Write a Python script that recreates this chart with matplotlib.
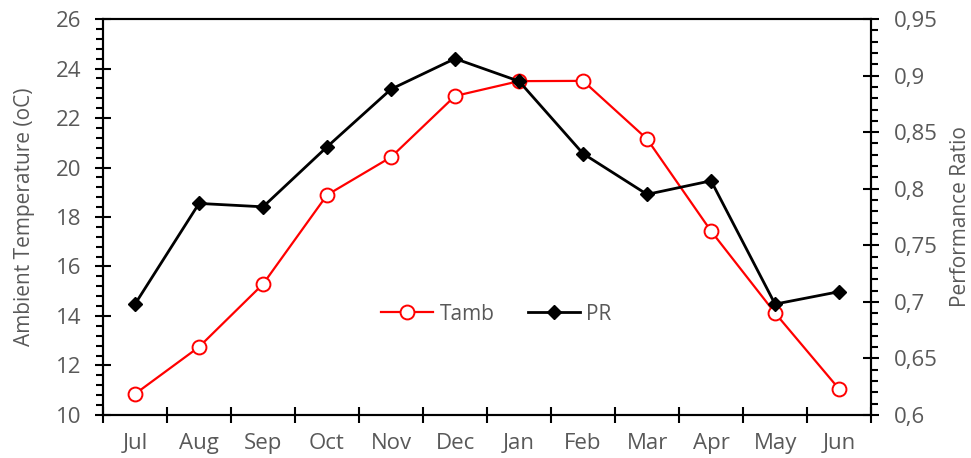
import matplotlib
matplotlib.use("Agg")
import matplotlib.pyplot as plt
from matplotlib.ticker import MultipleLocator, FuncFormatter

plt.rcParams.update({
    "font.family": ["Open Sans", "DejaVu Sans"],
    "font.size": 16,
})

MONTHS = ["Jul", "Aug", "Sep", "Oct", "Nov", "Dec", "Jan", "Feb", "Mar", "Apr", "May", "Jun"]
TAMB = [10.85, 12.75, 15.29, 18.89, 20.42, 22.89, 23.49, 23.50, 21.15, 17.43, 14.12, 11.05]
PR = [0.698, 0.787, 0.784, 0.837, 0.888, 0.915, 0.895, 0.831, 0.795, 0.807, 0.698, 0.709]

GRAY = "#595959"

fig = plt.figure(figsize=(9.71, 4.58), dpi=100)
ax = fig.add_axes([0.1061, 0.0939, 0.791, 0.8646])
ax2 = ax.twinx()

x = list(range(len(MONTHS)))
l1, = ax.plot(x, TAMB, color="#FF0000", lw=1.6, marker="o", ms=10,
              mfc="white", mec="#FF0000", mew=1.4, label="Tamb")
l2, = ax2.plot(x, PR, color="black", lw=2.0, marker="D", ms=7.5,
               mfc="black", mec="black", label="PR")

ax.set_xlim(-0.5, 11.5)
ax.set_ylim(10, 26)
ax2.set_ylim(0.6, 0.95)

# x: ticks between categories, labels centred on categories
ax.set_xticks([i - 0.5 for i in range(13)])
ax.set_xticklabels([])
ax.set_xticks(x, minor=True)
ax.set_xticklabels(MONTHS, minor=True)
ax.tick_params(axis="x", which="major", direction="inout", length=11, width=1.5)
ax.tick_params(axis="x", which="minor", length=0, pad=13, labelcolor=GRAY)

ax.yaxis.set_major_locator(MultipleLocator(2))
ax.yaxis.set_minor_locator(MultipleLocator(0.4))
ax.tick_params(axis="y", which="major", direction="inout", length=11, width=1.5,
               labelcolor=GRAY, pad=10)
ax.tick_params(axis="y", which="minor", direction="out", length=5, width=1.5)

ax2.yaxis.set_major_locator(MultipleLocator(0.05))
ax2.yaxis.set_minor_locator(MultipleLocator(0.01))
ax2.yaxis.set_major_formatter(FuncFormatter(lambda v, p: f"{v:g}".replace(".", ",")))
ax2.tick_params(axis="y", which="major", direction="inout", length=11, width=1.5,
                labelcolor=GRAY, pad=11)
ax2.tick_params(axis="y", which="minor", direction="out", length=5, width=1.5)

for a in (ax, ax2):
    for s in a.spines.values():
        s.set_linewidth(1.5)

ax.set_ylabel("Ambient Temperature (oC)", color=GRAY, fontsize=15, labelpad=15)
ax2.set_ylabel("Performance Ratio", color=GRAY, fontsize=15, labelpad=9)

ax.legend(handles=[l1, l2], loc="center", bbox_to_anchor=(0.512, 0.255), ncol=2,
          frameon=False, fontsize=15, handlelength=2.5, columnspacing=1.6,
          handletextpad=0.3, labelcolor=GRAY)

fig.savefig("out.png", dpi=100)
